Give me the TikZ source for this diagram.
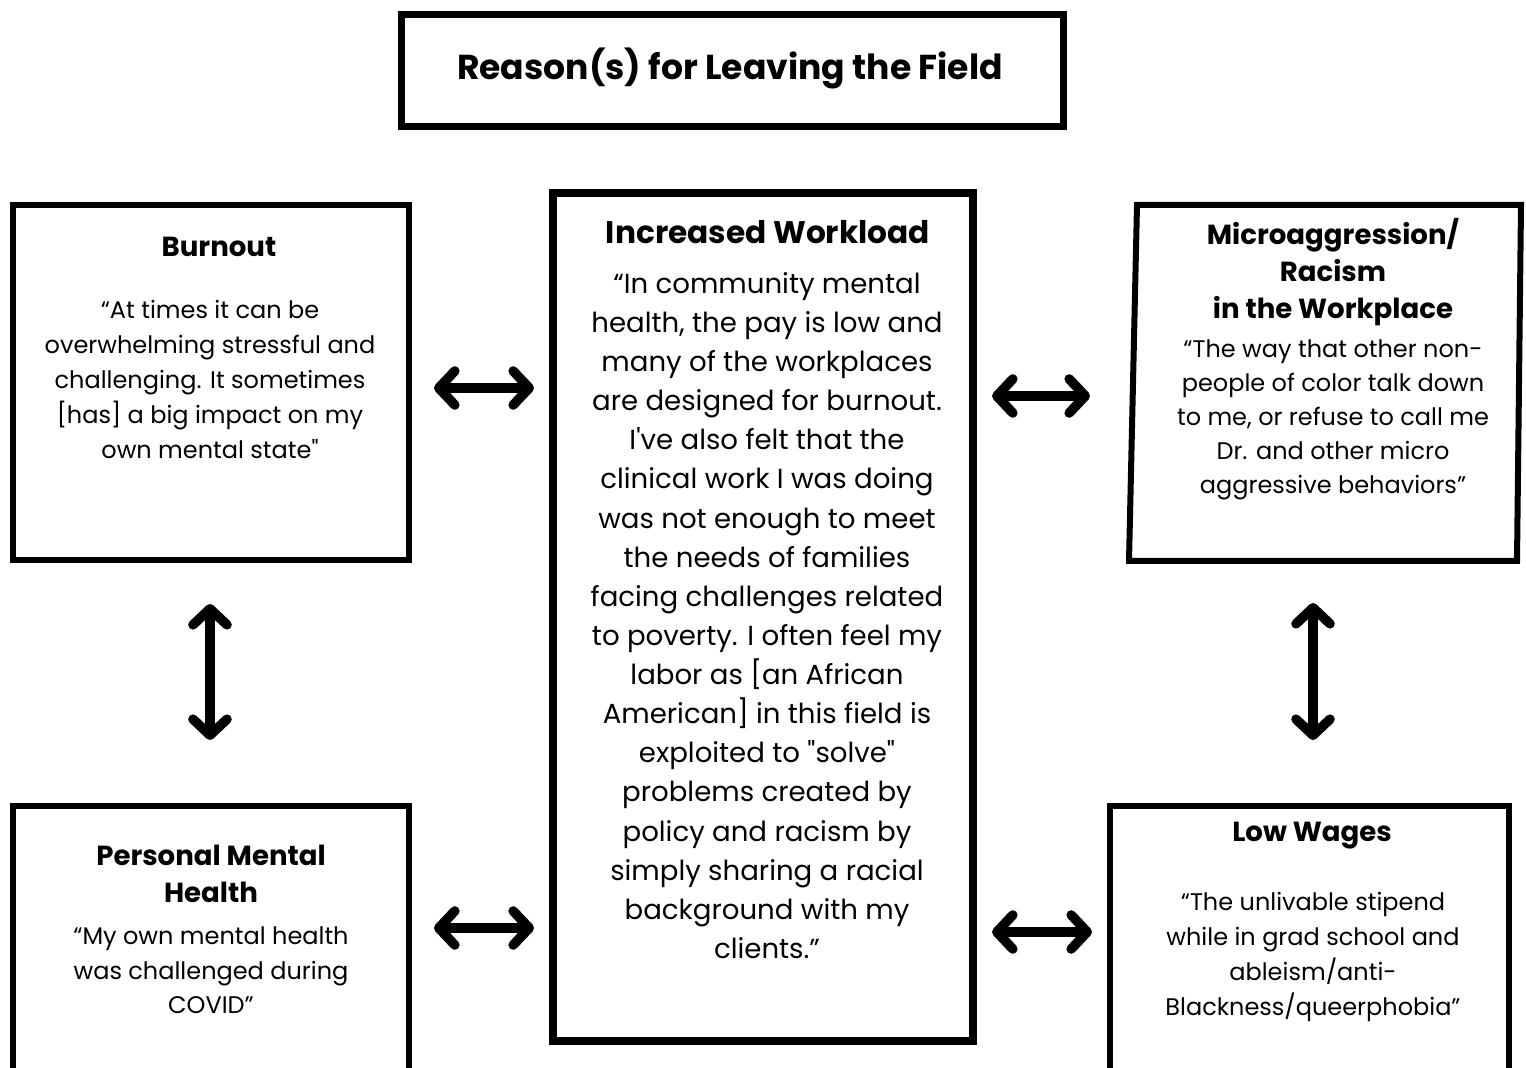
\documentclass[tikz,border=0pt]{standalone}
\usepackage{fontspec}
\setmainfont{Poppins}
\usetikzlibrary{arrows.meta,calc}
\newcommand{\boxLine}{3pt}
\newcommand{\arrowLine}{4.8pt}
\newcommand{\quoteFont}{\fontsize{12pt}{17.5pt}\selectfont}
\newcommand{\headFont}{\bfseries\fontsize{13.8pt}{18.5pt}\selectfont}
\newcommand{\sq}{\textquotedbl}

\tikzset{
  reasonbox/.style={draw, line width=\boxLine, inner sep=0pt, outer sep=0pt,
                    minimum width=198pt, minimum height=177.5pt},
  heading/.style={font=\headFont, align=center, inner sep=0pt},
  quote/.style={font=\quoteFont, align=center, inner sep=0pt},
  twoway/.style={{Straight Barb[length=8pt,width=17pt,round]}-{Straight Barb[length=8pt,width=17pt,round]},
                 line width=\arrowLine, line cap=round}
}

\begin{document}
\begin{tikzpicture}[x=0.5pt, y=-0.5pt]
\useasboundingbox (0,0) rectangle (1526,1068);
\fill[white] (0,0) rectangle (1526,1068);

% title
\node[draw, line width=3.5pt, inner sep=0pt, minimum width=331pt, minimum height=56pt] (title) at (732,71) {};
\node[font=\bfseries\fontsize{17.3pt}{20pt}\selectfont, inner sep=0pt] (titleText) at (730,68) {Reason(s) for Leaving the Field};

% boxes
\node[reasonbox] (burnout) at (211,382.5) {};
\node[reasonbox, line width=4pt, minimum width=210pt, minimum height=424pt] (work) at (763,617) {};
\node[reasonbox, draw=none, minimum width=194pt, minimum height=178pt] (micro) at (1325,383) {};
\draw[line width=\boxLine] ([xshift=3pt]micro.north west) -- ([xshift=1pt]micro.north east)
      -- ([xshift=-1pt]micro.south east) -- ([xshift=-1pt]micro.south west) -- cycle;
\node[reasonbox, minimum height=137pt] (pmh) at (211,943) {};
\node[reasonbox, minimum width=199.5pt, minimum height=137pt] (low) at (1309.5,943) {};

% texts
\node[heading] (burnoutHead) at (219,247) {Burnout};
\node[quote] (burnoutQuote) at (210,379) {“At times it can be\\ overwhelming stressful and\\ challenging. It sometimes\\ {[has]} a big impact on my\\ own mental state\sq};

\node[heading, font=\bfseries\fontsize{15.6pt}{18pt}\selectfont] (workHead) at (768,232) {Increased Workload};
\node[quote, font=\fontsize{13.8pt}{19.56pt}\selectfont] (workQuote) at (767,615.5) {“In community mental\\ health, the pay is low and\\ many of the workplaces\\ are designed for burnout.\\ I\textquotesingle ve also felt that the\\ clinical work I was doing\\ was not enough to meet\\ the needs of families\\ facing challenges related\\ to poverty. I often feel my\\ labor as {[an} African\\ American] in this field is\\ exploited to \sq solve\sq\\ problems created by\\ policy and racism by\\ simply sharing a racial\\ background with my\\ clients.”};

\node[heading] (microHead) at (1333,272) {Microaggression/\\ Racism\\ in the Workplace};
\node[quote, font=\fontsize{12pt}{17pt}\selectfont] (microQuote) at (1333,419.5) {“The way that other non-\\ people of color talk down\\ to me, or refuse to call me\\ Dr. and other micro\\ aggressive behaviors”};

\node[heading] (pmhHead) at (211,873.5) {Personal Mental\\ Health};
\node[quote, font=\fontsize{12pt}{17.25pt}\selectfont] (pmhQuote) at (211,970.5) {“My own mental health\\ was challenged during\\ COVID”};

\node[heading] (lowHead) at (1312,836) {Low Wages};
\node[quote] (lowQuote) at (1313,957) {“The unlivable stipend\\ while in grad school and\\ ableism/anti-\\ Blackness/queerphobia”};

% arrows
\draw[twoway] ($(burnout.east)+(12.5pt,-2.75pt)$) -- ($(work.west |- burnout.east)+(-9.5pt,-2.75pt)$);
\draw[twoway] ($(work.east |- micro.west)+(9.5pt,-6.5pt)$) -- ($(micro.west)+(-20.5pt,-6.5pt)$);
\draw[twoway] ($(pmh.east)+(12.5pt,7.5pt)$) -- ($(work.west |- pmh.east)+(-9.5pt,7.5pt)$);
\draw[twoway] ($(work.east |- low.west)+(9.5pt,5.5pt)$) -- ($(low.west)+(-9pt,5.5pt)$);
\draw[twoway] ($(burnout.south)+(-0.5pt,-22pt)$) -- ($(burnout.south |- pmh.north)+(-0.5pt,33pt)$);
\draw[twoway] ($(low.north |- micro.south)+(1.75pt,-21pt)$) -- ($(low.north)+(1.75pt,33pt)$);
\end{tikzpicture}
\end{document}
